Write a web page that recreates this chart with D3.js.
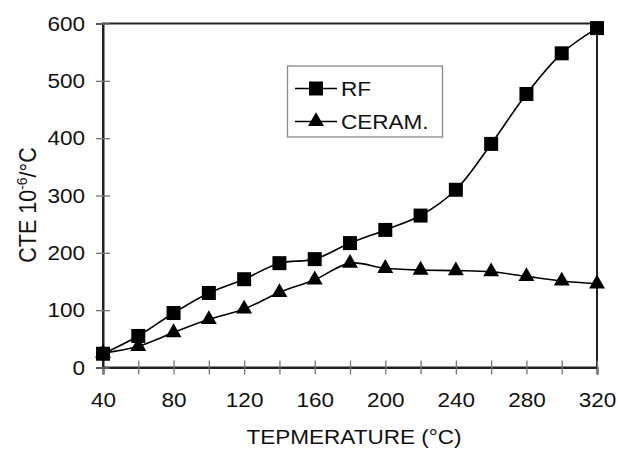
<!DOCTYPE html>
<html>
<head>
<meta charset="utf-8">
<script src="https://cdn.jsdelivr.net/npm/d3@7"></script>
<style>
  body { margin: 0; background: #fff; }
  text { font-family: "Liberation Sans", Arial, sans-serif; fill: #111; }
</style>
</head>
<body>
<div id="chart"></div>
<script>
const temps = [40, 60, 80, 100, 120, 140, 160, 180, 200, 220, 240, 260, 280, 300, 320];
const rfValues = [24, 55, 95, 130, 154, 182, 189, 217, 240, 265, 310, 390, 477, 548, 592];
const ceramValues = [25, 37, 61, 84, 102, 131, 153, 182, 173, 170, 169, 167, 159, 151, 146];
const xTicks = [40, 60, 80, 100, 120, 140, 160, 180, 200, 220, 240, 260, 280, 300, 320];
const xLabels = [40, 80, 120, 160, 200, 240, 280, 320];
const yTicks = [0, 100, 200, 300, 400, 500, 600];
const seriesNames = ["RF", "CERAM."];

const width = 618, height = 450;
const margin = { top: 23.5, right: 21, bottom: 82.5, left: 103 };
const fontSize = 20.5;
const sx = 1.1; // the original glyphs are a bit wider than Arial

const svg = d3.select("#chart")
  .append("svg")
  .attr("width", width)
  .attr("height", height);

const x = d3.scaleLinear()
  .domain([40, 320])
  .range([margin.left, width - margin.right]);

const y = d3.scaleLinear()
  .domain([0, 600])
  .range([height - margin.bottom, margin.top]);

// frame
svg.append("rect")
  .attr("x", x(40))
  .attr("y", y(600))
  .attr("width", x(320) - x(40))
  .attr("height", y(0) - y(600))
  .attr("fill", "none")
  .attr("stroke", "#222")
  .attr("stroke-width", 2);

// x axis
const xAxis = svg.append("g")
  .attr("transform", `translate(0,${y(0)})`)
  .call(d3.axisBottom(x)
    .tickValues(xTicks)
    .tickSize(7)
    .tickPadding(18)
    .tickFormat(d => xLabels.includes(d) ? d : ""));
xAxis.select(".domain").attr("stroke", "#222").attr("stroke-width", 2);
xAxis.selectAll(".tick line").attr("y1", -7).attr("stroke", "#777").attr("stroke-width", 1.3);
xAxis.selectAll(".tick text")
  .attr("font-size", fontSize)
  .attr("font-family", "Liberation Sans, Arial, sans-serif")
  .attr("fill", "#111")
  .attr("transform", `scale(${sx},1)`);

// y axis
const yAxis = svg.append("g")
  .attr("transform", `translate(${x(40)},0)`)
  .call(d3.axisLeft(y)
    .tickValues(yTicks)
    .tickSize(7)
    .tickPadding(11));
yAxis.select(".domain").attr("stroke", "#222").attr("stroke-width", 2);
yAxis.selectAll(".tick line").attr("x1", 7).attr("stroke", "#777").attr("stroke-width", 1.3);
yAxis.selectAll(".tick text")
  .attr("font-size", fontSize)
  .attr("font-family", "Liberation Sans, Arial, sans-serif")
  .attr("fill", "#111")
  .attr("x", -18 / sx)
  .attr("transform", `scale(${sx},1)`);

// axis titles
svg.append("text")
  .attr("transform", `translate(354,444) scale(${sx},1)`)
  .attr("text-anchor", "middle")
  .attr("font-size", fontSize)
  .text("TEPMERATURE (°C)");

const yTitle = svg.append("text")
  .attr("transform", "translate(36,205) rotate(-90) scale(1,1.08)")
  .attr("text-anchor", "middle")
  .attr("font-size", 21.5);
yTitle.append("tspan").text("CTE 10");
yTitle.append("tspan").attr("font-size", 14).attr("dy", -8).text("-6");
yTitle.append("tspan").attr("dy", 8).text("/°C");

// lines
const line = d3.line()
  .x((d, i) => x(temps[i]))
  .y(d => y(d))
  .curve(d3.curveCatmullRom.alpha(0.5));

const series = [
  { name: seriesNames[0], values: rfValues, symbol: d3.symbolSquare, size: 196 },
  { name: seriesNames[1], values: ceramValues, symbol: d3.symbolTriangle, size: 110 }
];

series.slice().reverse().forEach(s => {
  svg.append("path")
    .datum(s.values)
    .attr("d", line)
    .attr("fill", "none")
    .attr("stroke", "#000")
    .attr("stroke-width", 1.6);

  svg.append("g")
    .selectAll("path")
    .data(s.values)
    .join("path")
    .attr("transform", (d, i) => `translate(${x(temps[i])},${y(d)})`)
    .attr("d", d3.symbol(s.symbol, s.size))
    .attr("fill", "#000");
});

// legend
const legend = svg.append("g");
legend.append("rect")
  .attr("x", 287.5)
  .attr("y", 66)
  .attr("width", 155)
  .attr("height", 71)
  .attr("fill", "#fff")
  .attr("stroke", "#888")
  .attr("stroke-width", 1.3);

series.forEach((s, i) => {
  const ly = 88.5 + i * 33;
  legend.append("line")
    .attr("x1", 295).attr("x2", 337)
    .attr("y1", ly).attr("y2", ly)
    .attr("stroke", "#000")
    .attr("stroke-width", 1.6);
  legend.append("path")
    .attr("transform", `translate(316,${ly})`)
    .attr("d", d3.symbol(s.symbol, s.size))
    .attr("fill", "#000");
  legend.append("text")
    .attr("transform", `translate(341,${ly + 7.5}) scale(${sx},1)`)
    .attr("font-size", fontSize)
    .text(s.name);
});
</script>
</body>
</html>
